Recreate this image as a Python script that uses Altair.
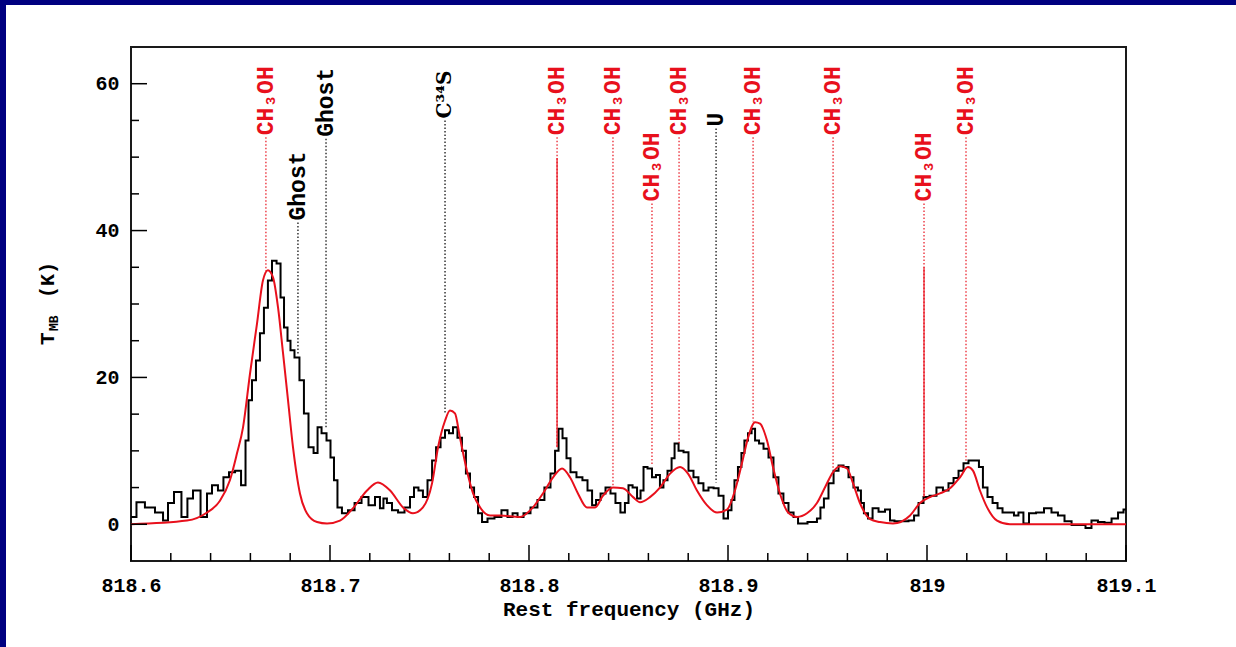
import altair as alt
import pandas as pd

# ---------------- data ----------------
obs_freq = [818.6000, 818.6010, 818.6045, 818.6095, 818.6146, 818.6176, 818.6196, 818.6236, 818.6271,
            818.6296, 818.6327, 818.6372, 818.6392, 818.6422, 818.6452, 818.6477, 818.6508, 818.6538,
            818.6568, 818.6583, 818.6598, 818.6618, 818.6638, 818.6658, 818.6678, 818.6698, 818.6719,
            818.6744, 818.6759, 818.6779, 818.6794, 818.6809, 818.6834, 818.6859, 818.6879, 818.6905,
            818.6930, 818.6945, 818.6970, 818.6995, 818.7010, 818.7030, 818.7045, 818.7075, 818.7106,
            818.7141, 818.7176, 818.7211, 818.7241, 818.7261, 818.7276, 818.7296, 818.7327, 818.7357,
            818.7392, 818.7412, 818.7432, 818.7457, 818.7477, 818.7503, 818.7523, 818.7543, 818.7568,
            818.7588, 818.7608, 818.7628, 818.7653, 818.7673, 818.7693, 818.7714, 818.7734, 818.7754,
            818.7774, 818.7809, 818.7844, 818.7879, 818.7905, 818.7930, 818.7955, 818.7990, 818.8025,
            818.8060, 818.8095, 818.8121, 818.8141, 818.8156, 818.8181, 818.8196, 818.8221, 818.8256,
            818.8281, 818.8307, 818.8327, 818.8347, 818.8372, 818.8397, 818.8422, 818.8447, 818.8472,
            818.8492, 818.8508, 818.8533, 818.8553, 818.8568, 818.8583, 818.8608, 818.8628, 818.8648,
            818.8668, 818.8683, 818.8709, 818.8724, 818.8739, 818.8764, 818.8789, 818.8814, 818.8839,
            818.8864, 818.8889, 818.8915, 818.8940, 818.8965, 818.8990, 818.9010, 818.9025, 818.9040,
            818.9060, 818.9075, 818.9090, 818.9111, 818.9126, 818.9146, 818.9166, 818.9191, 818.9216,
            818.9241, 818.9266, 818.9291, 818.9317, 818.9342, 818.9362, 818.9437, 818.9457, 818.9472,
            818.9492, 818.9518, 818.9543, 818.9568, 818.9593, 818.9618, 818.9643, 818.9663, 818.9673,
            818.9693, 818.9714, 818.9739, 818.9774, 818.9804, 818.9824, 818.9849, 818.9889, 818.9925,
            818.9945, 818.9970, 818.9995, 819.0030, 819.0065, 819.0095, 819.0121, 819.0146, 819.0171,
            819.0196, 819.0221, 819.0251, 819.0271, 819.0291, 819.0317, 819.0342, 819.0367, 819.0392,
            819.0427, 819.0447, 819.0472, 819.0497, 819.0528, 819.0568, 819.0608, 819.0643, 819.0673,
            819.0709, 819.0744, 819.0784, 819.0809, 819.0844, 819.0874, 819.0910, 819.0945, 819.0975,
            819.1000]
obs_tmb = [1.0, 1.0, 3.0, 2.3, 1.6, 0.5, 2.9, 4.4, 1.0,
           3.5, 4.6, 1.0, 4.2, 5.3, 4.6, 6.4, 7.1, 7.3,
           5.3, 11.4, 16.9, 19.6, 22.3, 26.0, 29.5, 33.2, 35.9,
           35.5, 30.9, 26.8, 25.0, 23.7, 22.7, 19.6, 15.1, 10.5,
           9.7, 13.2, 12.4, 11.4, 9.1, 6.0, 2.3, 1.5, 1.9,
           2.9, 3.7, 2.6, 3.7, 2.2, 3.5, 2.9, 1.9, 1.6,
           2.3, 3.7, 5.0, 4.6, 3.7, 6.0, 8.7, 10.5, 11.8,
           12.8, 12.4, 13.2, 11.8, 10.0, 6.9, 5.0, 3.7, 1.5,
           0.3, 0.8, 1.0, 1.9, 1.0, 1.5, 1.0, 1.5, 2.3,
           3.3, 5.0, 6.9, 10.0, 13.0, 11.7, 9.0, 7.1, 6.4,
           6.0, 4.6, 2.6, 3.3, 4.2, 5.0, 4.2, 2.9, 1.6,
           2.9, 5.3, 5.0, 3.5, 4.6, 7.8, 7.6, 6.4, 6.7,
           5.0, 6.0, 7.3, 9.0, 11.0, 10.0, 9.8, 7.3, 6.4,
           5.6, 4.6, 5.0, 4.9, 3.9, 0.8, 1.9, 3.3, 6.0,
           7.8, 9.7, 11.4, 12.4, 13.0, 11.4, 11.0, 10.3, 9.1,
           6.4, 4.2, 2.9, 1.6, 1.0, 0.1, 0.3, 0.8, 2.3,
           3.5, 5.6, 7.3, 8.0, 7.8, 6.4, 5.0, 4.6, 2.9,
           1.5, 0.8, 2.2, 1.7, 2.0, 0.5, 0.4, 0.4, 0.5,
           1.2, 2.9, 3.7, 3.9, 5.0, 4.6, 5.6, 6.3, 7.3,
           8.3, 8.7, 8.7, 7.8, 5.0, 3.7, 2.9, 2.2, 1.6,
           1.6, 1.2, 1.6, 0.1, 1.5, 1.6, 2.2, 1.6, 1.2,
           0.4, -0.1, -0.1, -0.5, 0.5, 0.3, 0.2, 0.8, 1.6,
           2.0]

mod_freq = [818.6000, 818.6281, 818.6382, 818.6447, 818.6497, 818.6533, 818.6563, 818.6598, 818.6633,
            818.6663, 818.6688, 818.6714, 818.6739, 818.6764, 818.6789, 818.6814, 818.6849, 818.6884,
            818.6935, 818.6985, 818.7050, 818.7116, 818.7186, 818.7241, 818.7302, 818.7367, 818.7417,
            818.7467, 818.7513, 818.7543, 818.7578, 818.7603, 818.7628, 818.7653, 818.7688, 818.7719,
            818.7754, 818.7804, 818.7854, 818.7955, 818.8020, 818.8070, 818.8121, 818.8166, 818.8206,
            818.8246, 818.8291, 818.8332, 818.8372, 818.8422, 818.8472, 818.8523, 818.8558, 818.8608,
            818.8658, 818.8709, 818.8759, 818.8799, 818.8844, 818.8894, 818.8945, 818.8995, 818.9035,
            818.9070, 818.9101, 818.9136, 818.9161, 818.9196, 818.9226, 818.9261, 818.9302, 818.9347,
            818.9397, 818.9447, 818.9487, 818.9528, 818.9563, 818.9598, 818.9628, 818.9663, 818.9714,
            818.9764, 818.9829, 818.9915, 818.9965, 819.0015, 819.0065, 819.0116, 819.0166, 819.0206,
            819.0231, 819.0266, 819.0302, 819.0352, 819.0417, 819.1000]
mod_tmb = [0.0, 0.5, 1.6, 3.2, 6.0, 9.7, 13.2, 20.5, 27.3,
           33.2, 34.6, 33.6, 29.5, 23.3, 16.9, 10.5, 4.2, 1.5,
           0.3, 0.1, 0.5, 2.2, 4.6, 5.7, 4.6, 2.3, 1.5,
           2.3, 5.6, 10.5, 14.1, 15.5, 15.1, 11.8, 7.3, 4.2,
           2.3, 1.2, 1.2, 1.0, 2.3, 4.2, 6.4, 7.6, 6.4,
           4.2, 2.3, 2.3, 3.9, 5.0, 4.9, 3.7, 3.0, 3.7,
           5.0, 6.9, 7.8, 6.9, 4.6, 2.6, 1.6, 2.0, 4.6,
           8.3, 11.8, 13.9, 13.7, 11.4, 7.8, 4.2, 1.6, 1.0,
           1.5, 2.9, 5.0, 7.1, 7.9, 7.6, 5.6, 2.9, 0.7,
           0.3, 0.1, 1.2, 2.9, 3.7, 4.2, 4.9, 6.4, 7.8,
           7.3, 4.6, 2.3, 0.5, 0.0, 0.0]

line_freq = [818.6678, 818.6839, 818.6980, 818.7578, 818.8141, 818.8422, 818.8618,
             818.8754, 818.8940, 818.9126, 818.9528, 818.9985, 819.0196]
line_name = ["CH\u2083OH", "Ghost", "Ghost", "C\u00b3\u2074S", "CH\u2083OH", "CH\u2083OH", "CH\u2083OH",
             "CH\u2083OH", "U", "CH\u2083OH", "CH\u2083OH", "CH\u2083OH", "CH\u2083OH"]
line_kind = ["CH3OH", "other", "other", "isotopologue", "CH3OH", "CH3OH", "CH3OH",
             "CH3OH", "other", "CH3OH", "CH3OH", "CH3OH", "CH3OH"]
line_label_tmb = [52.7, 41.1, 52.5, 55.0, 52.7, 52.7, 43.7, 52.7, 53.9, 52.7, 52.7, 43.7, 52.7]
line_bottom_tmb = [34.5, 23.0, 13.0, 15.0, 10.5, 5.0, 8.0, 11.0, 5.7, 14.0, 7.6, 3.7, 8.4]

blend_freq = [818.8141, 818.9985]
blend_top_tmb = [49.9, 35.0]
blend_bottom_tmb = [10.5, 3.7]

x_major_ticks = [818.6, 818.7, 818.8, 818.9, 819.0, 819.1]
x_minor_ticks = [818.62, 818.64, 818.66, 818.68, 818.72, 818.74, 818.76, 818.78,
                 818.82, 818.84, 818.86, 818.88, 818.92, 818.94, 818.96, 818.98,
                 819.02, 819.04, 819.06, 819.08]
y_major_ticks = [0, 20, 40, 60]
y_minor_ticks = [5, 10, 15, 25, 30, 35, 45, 50, 55]

# ---------------- styling ----------------
W, H = 995, 514
FONT = "Liberation Mono"
RED = "#e8101c"
NAVY = "#000080"
XDOM = [818.6, 819.1]
YDOM = [-5, 65]

xs = alt.Scale(domain=XDOM, nice=False, zero=False)
ys = alt.Scale(domain=YDOM, nice=False, zero=False)

xaxis = alt.Axis(title="Rest frequency (GHz)", values=x_major_ticks, format=".4~r",
                 ticks=False, domain=False, grid=False, labelPadding=14, labelFlush=False,
                 labelFont=FONT, labelFontSize=20, labelFontWeight="bold", labelColor="black",
                 titleFont=FONT, titleFontSize=21, titleFontWeight="bold", titleColor="black",
                 titlePadding=3, zindex=1)
yaxis = alt.Axis(title=None, values=y_major_ticks, format="d", ticks=False, domain=False,
                 grid=False, labelPadding=12, labelFont=FONT, labelFontSize=20,
                 labelFontWeight="bold", labelColor="black", zindex=1)


def X(field):
    return alt.X(field, type="quantitative", scale=xs, axis=xaxis)


def Y(field):
    return alt.Y(field, type="quantitative", scale=ys, axis=yaxis)


obs = pd.DataFrame({"f": obs_freq, "t": obs_tmb})
mod = pd.DataFrame({"f": mod_freq, "t": mod_tmb})
lines = pd.DataFrame({"f": line_freq, "name": line_name, "kind": line_kind,
                      "t": line_label_tmb, "bot": line_bottom_tmb})
blend = pd.DataFrame({"f": blend_freq, "t": blend_top_tmb, "bot": blend_bottom_tmb})
xmaj = pd.DataFrame({"f": x_major_ticks})
xmin = pd.DataFrame({"f": x_minor_ticks})
ymaj = pd.DataFrame({"t": y_major_ticks})
ymin = pd.DataFrame({"t": y_minor_ticks})
one = alt.Data(values=[{}])

color_scale = alt.Scale(domain=["CH3OH", "other", "isotopologue"], range=[RED, "black", "black"])

# navy frame strips (decoration outside the plot)
strip_top = alt.Chart(one).mark_rect(color=NAVY).encode(
    x=alt.value(-131), x2=alt.value(1105), y=alt.value(-47), y2=alt.value(-42))
strip_left = alt.Chart(one).mark_rect(color=NAVY).encode(
    x=alt.value(-131), x2=alt.value(-125), y=alt.value(-47), y2=alt.value(600))

obs_line = alt.Chart(obs).mark_line(interpolate="step", color="black", strokeWidth=2).encode(
    x=X("f"), y=Y("t"))

mod_line = alt.Chart(mod).mark_line(interpolate="monotone", color=RED, strokeWidth=2).encode(
    x=X("f"), y=Y("t"))

id_rules = alt.Chart(lines).mark_rule(strokeDash=[1.5, 2], strokeWidth=1.2).encode(
    x=X("f"), y=Y("t"), y2="bot:Q",
    color=alt.Color("kind:N", scale=color_scale, legend=None))

blend_rules = alt.Chart(blend).mark_rule(strokeWidth=1.2, color=RED).encode(
    x=X("f"), y=Y("t"), y2="bot:Q")

id_text = alt.Chart(lines).transform_filter(alt.datum.kind != "isotopologue").mark_text(
    angle=270, align="left", baseline="middle", dx=2,
    font=FONT, fontSize=23, fontWeight="bold").encode(
    x=X("f"), y=Y("t"), text="name:N",
    color=alt.Color("kind:N", scale=color_scale, legend=None))

iso_text = alt.Chart(lines).transform_filter(alt.datum.kind == "isotopologue").mark_text(
    angle=270, align="left", baseline="middle", dx=2,
    font="DejaVu Serif", fontSize=20, fontWeight="bold", color="black").encode(
    x=X("f"), y=Y("t"), text="name:N")

tick_style = dict(color="black", strokeWidth=1.5)
xt_major = alt.Chart(xmaj).mark_rule(**tick_style).encode(
    x=X("f"), y=alt.value(H), y2=alt.value(H - 16))
xt_minor = alt.Chart(xmin).mark_rule(**tick_style).encode(
    x=X("f"), y=alt.value(H), y2=alt.value(H - 8))
yt_major = alt.Chart(ymaj).mark_rule(**tick_style).encode(
    y=Y("t"), x=alt.value(0), x2=alt.value(16))
yt_minor = alt.Chart(ymin).mark_rule(**tick_style).encode(
    y=Y("t"), x=alt.value(0), x2=alt.value(8))

# y-axis title: T with subscript MB, then (K)
yt_T = alt.Chart(one).mark_text(angle=270, align="left", baseline="alphabetic", font=FONT,
                                fontSize=21, fontWeight="bold", color="black").encode(
    x=alt.value(-77), y=alt.value(298), text=alt.value("T"))
yt_MB = alt.Chart(one).mark_text(angle=270, align="left", baseline="alphabetic", font=FONT,
                                 fontSize=13, fontWeight="bold", color="black").encode(
    x=alt.value(-73), y=alt.value(284), text=alt.value("MB"))
yt_K = alt.Chart(one).mark_text(angle=270, align="left", baseline="alphabetic", font=FONT,
                                fontSize=20, fontWeight="bold", color="black").encode(
    x=alt.value(-77), y=alt.value(251), text=alt.value("(K)"))

chart = alt.layer(
    strip_top, strip_left, obs_line, mod_line, id_rules, blend_rules, id_text, iso_text,
    xt_major, xt_minor, yt_major, yt_minor, yt_T, yt_MB, yt_K
).properties(
    width=W, height=H,
    autosize=alt.AutoSizeParams(type="none"),
    padding={"left": 131, "top": 47, "right": 110, "bottom": 86},
    background="white",
).configure_view(stroke="#1a1a1a", strokeWidth=2)

chart.save("out.html", embed_options={"renderer": "svg", "actions": False})
